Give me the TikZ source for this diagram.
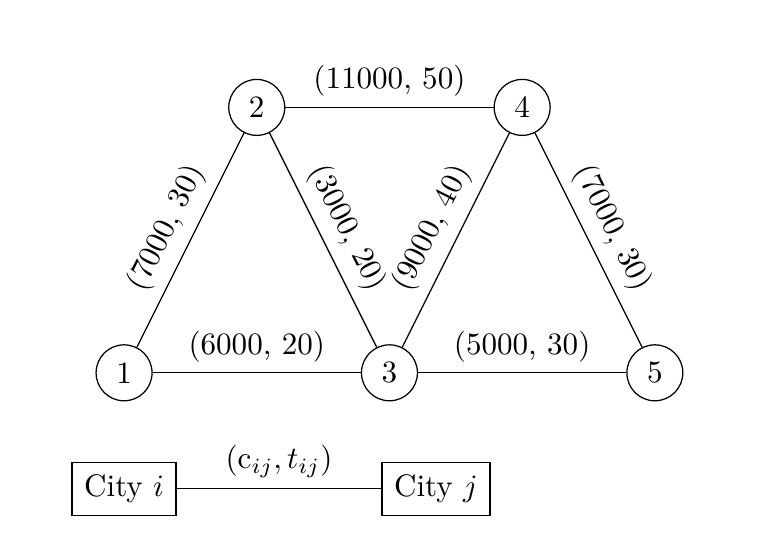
\documentclass[tikz,border=0pt]{standalone}
\begin{document}
\begin{tikzpicture}[
  city/.style={circle,draw,minimum size=18pt,inner sep=0pt},
  citybox/.style={rectangle,draw,minimum height=17pt,inner xsep=3.9pt},
  lbl/.style={midway,above,sloped}
]
\useasboundingbox (-39.9pt,-57.9pt) rectangle (205.5pt,119.9pt);
\node[city] (n1) at (0,0) {1};
\node[city] (n2) at (1.5,3) {2};
\node[city] (n3) at (3,0) {3};
\node[city] (n4) at (4.5,3) {4};
\node[city] (n5) at (6,0) {5};
\draw (n1) -- node[lbl] {(7000, 30)} (n2);
\draw (n2) -- node[lbl] {(3000, 20)} (n3);
\draw (n3) -- node[lbl] {(9000, 40)} (n4);
\draw (n4) -- node[lbl] {(7000, 30)} (n5);
\draw (n2) -- node[lbl] {(11000, 50)} (n4);
\draw (n1) -- node[lbl] {(6000, 20)} (n3);
\draw (n3) -- node[lbl] {(5000, 30)} (n5);
\node[citybox] (ci) at (0,-37.3pt) {City $i$};
\node[citybox] (cj) at (100.3pt,-37.3pt) {City $j$};
\draw (ci) -- node[lbl] {$(\mathrm{c}_{ij}, t_{ij})$} (cj);
\end{tikzpicture}
\end{document}
